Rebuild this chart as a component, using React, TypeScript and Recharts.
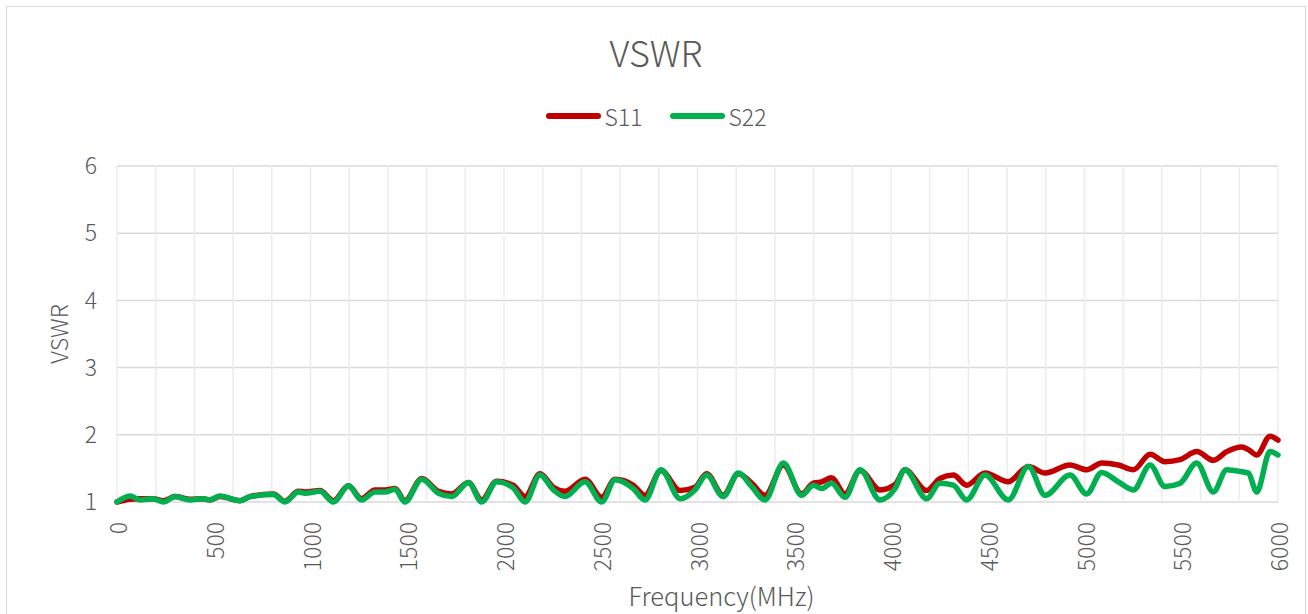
import React from 'react';
import { LineChart, Line, XAxis, YAxis, CartesianGrid, ReferenceLine, Label } from 'recharts';

const freq = [0, 67, 119, 186, 240, 300, 377, 445, 480, 532, 636, 687, 808, 868, 937, 972, 1049, 1118, 1196, 1264, 1333, 1385, 1437, 1488, 1575, 1661, 1730, 1816, 1885, 1962, 2047, 2109, 2186, 2255, 2315, 2419, 2505, 2574, 2668, 2729, 2811, 2910, 2987, 3047, 3133, 3211, 3280, 3349, 3444, 3538, 3599, 3642, 3693, 3762, 3840, 3943, 4021, 4072, 4184, 4253, 4322, 4391, 4486, 4606, 4710, 4796, 4925, 5011, 5089, 5175, 5253, 5339, 5416, 5494, 5580, 5666, 5735, 5813, 5847, 5890, 5959, 6000];

const s11 = [1.0, 1.04, 1.05, 1.05, 1.02, 1.08, 1.04, 1.05, 1.03, 1.08, 1.02, 1.08, 1.12, 1.01, 1.16, 1.15, 1.17, 1.02, 1.24, 1.05, 1.18, 1.18, 1.2, 1.02, 1.35, 1.16, 1.12, 1.29, 1.03, 1.31, 1.25, 1.08, 1.42, 1.22, 1.16, 1.34, 1.07, 1.34, 1.25, 1.1, 1.47, 1.17, 1.22, 1.42, 1.1, 1.42, 1.28, 1.1, 1.55, 1.12, 1.28, 1.3, 1.36, 1.12, 1.47, 1.18, 1.26, 1.48, 1.17, 1.35, 1.4, 1.25, 1.43, 1.3, 1.53, 1.43, 1.55, 1.48, 1.58, 1.55, 1.48, 1.71, 1.6, 1.63, 1.75, 1.62, 1.75, 1.82, 1.78, 1.7, 1.98, 1.92];

const s22 = [1.0, 1.09, 1.03, 1.05, 1.0, 1.08, 1.03, 1.05, 1.03, 1.09, 1.02, 1.08, 1.11, 1.0, 1.15, 1.13, 1.16, 1.0, 1.24, 1.03, 1.15, 1.15, 1.19, 1.0, 1.34, 1.13, 1.08, 1.29, 1.0, 1.3, 1.21, 1.0, 1.4, 1.18, 1.08, 1.3, 1.0, 1.33, 1.2, 1.03, 1.48, 1.05, 1.18, 1.4, 1.08, 1.43, 1.23, 1.03, 1.58, 1.1, 1.25, 1.2, 1.28, 1.07, 1.48, 1.03, 1.2, 1.48, 1.05, 1.28, 1.25, 1.03, 1.4, 1.03, 1.53, 1.1, 1.4, 1.12, 1.44, 1.3, 1.18, 1.55, 1.23, 1.28, 1.58, 1.15, 1.48, 1.45, 1.43, 1.15, 1.75, 1.7];

const xTicks = [0, 500, 1000, 1500, 2000, 2500, 3000, 3500, 4000, 4500, 5000, 5500, 6000];
const xGridValues = [0, 200, 400, 600, 800, 1000, 1200, 1400, 1600, 1800, 2000, 2200, 2400, 2600, 2800, 3000, 3200, 3400, 3600, 3800, 4000, 4200, 4400, 4600, 4800, 5000, 5200, 5400, 5600, 5800, 6000];
const yTicks = [1, 2, 3, 4, 5, 6];

const series = [
  { key: 's11', name: 'S11', color: '#C00000' },
  { key: 's22', name: 'S22', color: '#00B050' },
];

const title = 'VSWR';
const xTitle = 'Frequency(MHz)';
const yTitle = 'VSWR';

const data = freq.map((f, i) => ({ f, s11: s11[i], s22: s22[i] }));

const FONT = "DengXian, 'Noto Sans CJK SC', 'Noto Sans', sans-serif";
const TEXT = '#595959';

const XTick = (props: any) => {
  const { x, y, payload } = props;
  return (
    <text
      x={x}
      y={y}
      transform={`rotate(-90 ${x} ${y})`}
      textAnchor="end"
      dominantBaseline="central"
      fill={TEXT}
      fontSize={23}
      fontFamily={FONT}
      fontWeight={300}
    >
      {payload.value}
    </text>
  );
};

export default function App() {
  return (
    <div
      style={{
        position: 'absolute',
        left: 6,
        top: 6,
        width: 1300,
        height: 620,
        border: '1px solid #d9d9d9',
        boxSizing: 'border-box',
        background: '#fff',
        fontFamily: FONT,
      }}
    >
      <div
        style={{
          position: 'absolute',
          left: 0,
          top: 24,
          width: '100%',
          textAlign: 'center',
          fontSize: 36,
          lineHeight: '40px',
          color: TEXT,
          fontWeight: 300,
        }}
      >
        {title}
      </div>
      <div
        style={{
          position: 'absolute',
          left: 0,
          top: 95,
          width: '100%',
          display: 'flex',
          justifyContent: 'center',
          alignItems: 'center',
          gap: 27,
          color: TEXT,
          fontSize: 23,
          lineHeight: '28px',
          fontWeight: 300,
        }}
      >
        {series.map((s) => (
          <div key={s.key} style={{ display: 'flex', alignItems: 'center' }}>
            <div style={{ width: 55, height: 6, borderRadius: 3, background: s.color, marginRight: 4 }} />
            <span>{s.name}</span>
          </div>
        ))}
      </div>
      <div style={{ position: 'absolute', left: 0, top: 0 }}>
        <LineChart width={1298} height={608} data={data} margin={{ top: 159, right: 27, bottom: 0, left: 0 }}>
          <CartesianGrid vertical={false} stroke="#d9d9d9" strokeWidth={1.5} />
          {xGridValues.map((v) => (
            <ReferenceLine key={v} x={v} stroke="#ececec" strokeWidth={1.5} />
          ))}
          <XAxis
            dataKey="f"
            type="number"
            domain={[0, 6000]}
            ticks={xTicks}
            axisLine={false}
            tickLine={false}
            tickSize={0}
            tickMargin={20}
            height={113}
            tick={<XTick />}
            interval={0}
          >
            <Label
              value={xTitle}
              position="insideBottom"
              offset={9}
              dx={24}
              fill={TEXT}
              fontSize={25.5}
              fontFamily={FONT}
              fontWeight={300}
            />
          </XAxis>
          <YAxis
            type="number"
            domain={[1, 6]}
            ticks={yTicks}
            axisLine={false}
            tickLine={false}
            tickSize={0}
            tickMargin={20}
            width={110}
            tick={{ fill: TEXT, fontSize: 23, fontFamily: FONT, fontWeight: 300 }}
            interval={0}
          >
            <Label
              value={yTitle}
              position="center"
              angle={-90}
              dx={-2}
              fill={TEXT}
              fontSize={23}
              fontFamily={FONT}
              fontWeight={300}
            />
          </YAxis>
          {series.map((s) => (
            <Line
              key={s.key}
              dataKey={s.key}
              name={s.name}
              type="monotone"
              stroke={s.color}
              strokeWidth={5.5}
              strokeLinecap="round"
              strokeLinejoin="round"
              dot={false}
              activeDot={false}
              isAnimationActive={false}
            />
          ))}
        </LineChart>
      </div>
    </div>
  );
}
